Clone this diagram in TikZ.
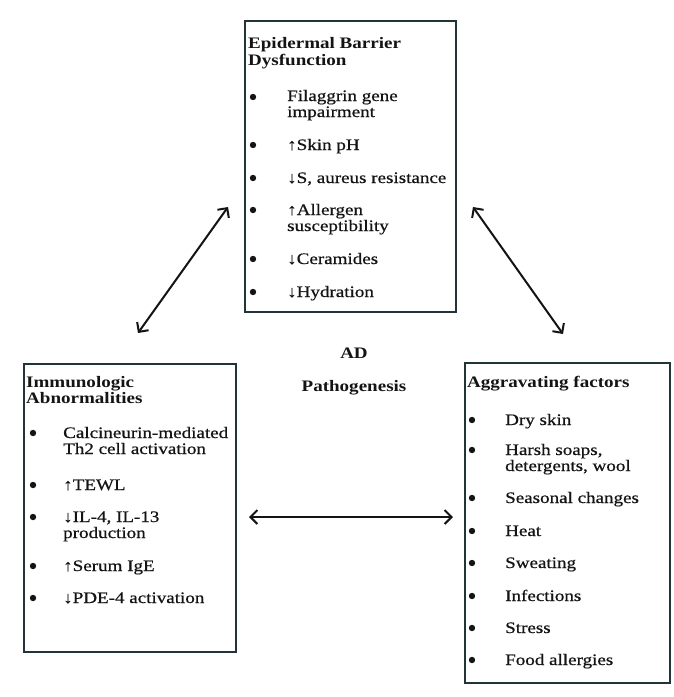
\documentclass[tikz,border=0pt]{standalone}
\usepackage{fontspec}
\setmainfont[FakeStretch=1.19,UprightFeatures={FakeBold=0.6}]{Liberation Serif}
\usetikzlibrary{arrows.meta}
\definecolor{boxline}{HTML}{22343A}
\definecolor{ink}{HTML}{141414}
\begin{document}
\begin{tikzpicture}[x=1pt,y=-1pt,
  panel/.style={draw=boxline,line width=2.1pt,fill=white,anchor=north west,inner sep=0pt},
  ttl/.style={anchor=base west,inner sep=0pt,font=\fontsize{16}{17}\selectfont\bfseries,text=ink},
  itm/.style={anchor=base west,inner sep=0pt,font=\fontsize{16}{17}\selectfont,text=ink},
  dot/.style={circle,fill=ink,inner sep=0pt,minimum size=6.4pt},
  link/.style={ink,line width=2pt,{Straight Barb[length=7pt,width=14pt]}-{Straight Barb[length=7pt,width=14pt]}}]
\useasboundingbox (0,0) rectangle (674,697);
\fill[white] (0,0) rectangle (674,697);

% the three panels
\node[panel,minimum width=211pt,minimum height=291pt] (barrier) at (244,20) {};
\node[panel,minimum width=212pt,minimum height=288pt] (immune) at (23,363) {};
\node[panel,minimum width=205pt,minimum height=320pt] (aggr) at (464,362) {};

% Epidermal barrier dysfunction
\node[ttl] (b0a) at (248,48) {Epidermal Barrier};
\node[ttl] (b0b) at (248,65) {Dysfunction};
\node[dot] (bd1) at (253,97) {};
\node[itm] (b1a) at (287,101) {Filaggrin gene};
\node[itm] (b1b) at (287,117) {impairment};
\node[dot] (bd2) at (253,145) {};
\node[itm] (b2) at (287,150) {↑Skin pH};
\node[dot] (bd3) at (253,178) {};
\node[itm] (b3) at (287,183) {↓S, aureus resistance};
\node[dot] (bd4) at (253,210) {};
\node[itm] (b4a) at (287,215) {↑Allergen};
\node[itm] (b4b) at (287,231) {susceptibility};
\node[dot] (bd5) at (253,259) {};
\node[itm] (b5) at (287,264) {↓Ceramides};
\node[dot] (bd6) at (253,292) {};
\node[itm] (b6) at (287,297) {↓Hydration};

% Immunologic abnormalities
\node[ttl] (i0a) at (26,387) {Immunologic};
\node[ttl] (i0b) at (26,403) {Abnormalities};
\node[dot] (id1) at (33,433) {};
\node[itm] (i1a) at (63,438) {Calcineurin-mediated};
\node[itm] (i1b) at (63,454) {Th2 cell activation};
\node[dot] (id2) at (33,485) {};
\node[itm] (i2) at (63,490) {↑TEWL};
\node[dot] (id3) at (33,517) {};
\node[itm] (i3a) at (63,522) {↓IL-4, IL-13};
\node[itm] (i3b) at (63,538) {production};
\node[dot] (id4) at (33,566) {};
\node[itm] (i4) at (63,571) {↑Serum IgE};
\node[dot] (id5) at (33,598) {};
\node[itm] (i5) at (63,603) {↓PDE-4 activation};

% Aggravating factors
\node[ttl] (g0) at (467,387) {Aggravating factors};
\node[dot] (gd1) at (472,420) {};
\node[itm] (g1) at (505,425) {Dry skin};
\node[dot] (gd2) at (472,450) {};
\node[itm] (g2a) at (505,455) {Harsh soaps,};
\node[itm] (g2b) at (505,471) {detergents, wool};
\node[dot] (gd3) at (472,498) {};
\node[itm] (g3) at (505,503) {Seasonal changes};
\node[dot] (gd4) at (472,531) {};
\node[itm] (g4) at (505,536) {Heat};
\node[dot] (gd5) at (472,563) {};
\node[itm] (g5) at (505,568) {Sweating};
\node[dot] (gd6) at (472,596) {};
\node[itm] (g6) at (505,601) {Infections};
\node[dot] (gd7) at (472,628) {};
\node[itm] (g7) at (505,633) {Stress};
\node[dot] (gd8) at (472,660) {};
\node[itm] (g8) at (505,665) {Food allergies};

% centre caption
\node[ttl,anchor=base] (ad) at (354,358) {AD};
\node[ttl,anchor=base] (patho) at (354,391) {Pathogenesis};

% two-headed links between the panels
\coordinate (lA) at (138,333);
\coordinate (lB) at (228,207);
\coordinate (rA) at (473,207);
\coordinate (rB) at (563,334);
\coordinate (hA) at (249,517);
\coordinate (hB) at (453,517);
\draw[link] (lA) -- (lB);
\draw[link] (rA) -- (rB);
\draw[link] (hA) -- (hB);
\end{tikzpicture}
\end{document}
